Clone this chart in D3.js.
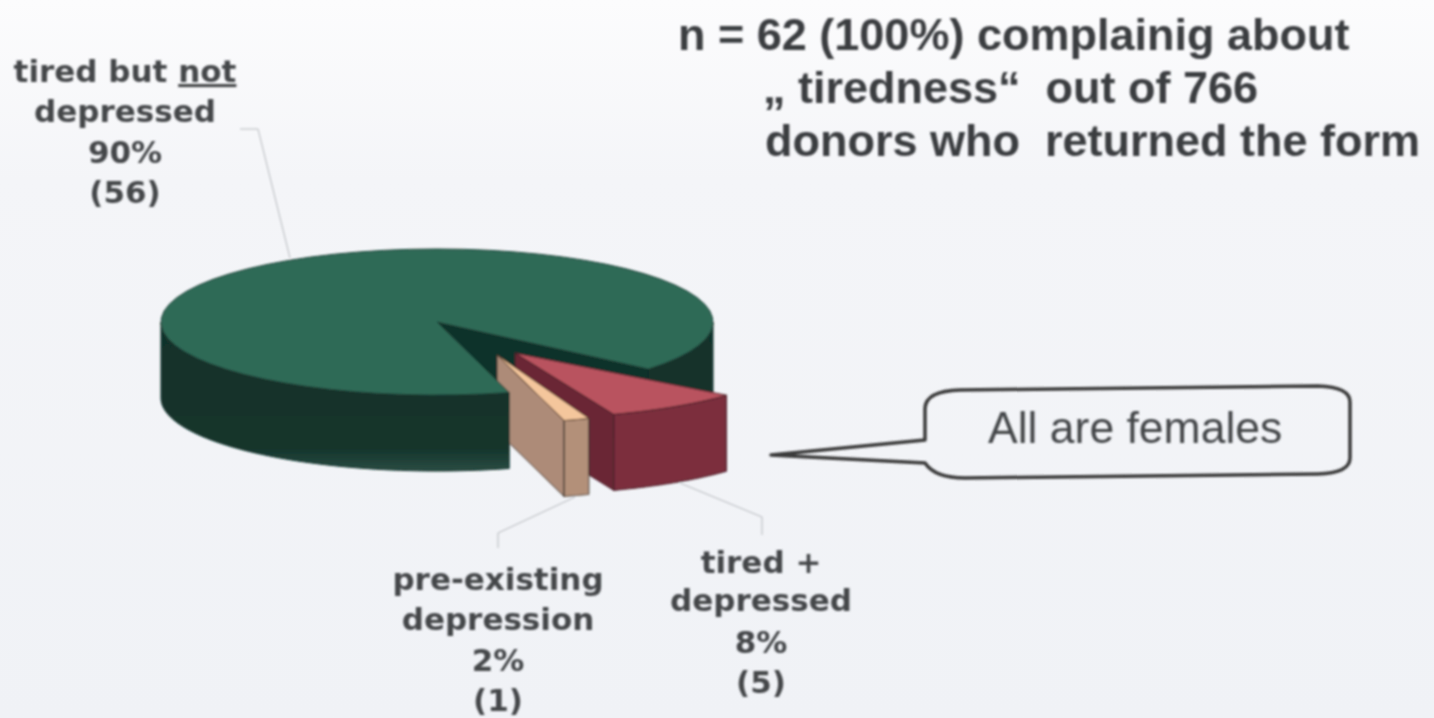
<!DOCTYPE html>
<html>
<head>
<meta charset="utf-8">
<script src="https://cdn.jsdelivr.net/npm/d3@7"></script>
<style>
  html, body { margin: 0; padding: 0; background: #f1f3f7; }
  svg { display: block; }
</style>
</head>
<body>
<svg id="chart" width="1434" height="718"></svg>
<script>
// values
const categories = ["tired + depressed", "pre-existing depression", "tired but not depressed"];
const counts = [5, 1, 56];
const percents = ["8%", "2%", "90%"];
const titleLines = ["n = 62 (100%) complainig about", "\u201E tiredness\u201C  out of 766", "donors who  returned the form"];
const calloutText = "All are females";

const svg = d3.select("#chart");
const width = +svg.attr("width");
const height = +svg.attr("height");
const rad = (deg) => (deg * Math.PI) / 180;

// pie centre and ellipse radii, flattened like the tilted 3D pie
const cx = 437, cy = 322, rx = 276, ry = 73, depth = 76;

const defs = svg.append("defs");
const paper = defs.append("linearGradient").attr("id", "paper").attr("x1", 0).attr("y1", 0).attr("x2", 0).attr("y2", 1);
paper.append("stop").attr("offset", 0).attr("stop-color", "#fcfcfd");
paper.append("stop").attr("offset", 0.25).attr("stop-color", "#f4f5f8");
paper.append("stop").attr("offset", 1).attr("stop-color", "#f0f2f6");

const wall = defs.append("linearGradient").attr("id", "greenWall").attr("x1", 0).attr("y1", 0).attr("x2", 0).attr("y2", 1);
wall.append("stop").attr("offset", 0).attr("stop-color", "#11302a");
wall.append("stop").attr("offset", 0.85).attr("stop-color", "#15352c");
wall.append("stop").attr("offset", 1).attr("stop-color", "#2a4c43");

const blur = defs.append("filter").attr("id", "scan");
blur.append("feGaussianBlur").attr("stdDeviation", 0.8);

svg.append("rect").attr("width", width).attr("height", height).attr("fill", "url(#paper)");

const root = svg.append("g").attr("filter", "url(#scan)");

// slices start just below the right edge and run clockwise on screen
const pie = d3.pie().sort(null).startAngle(rad(40)).endAngle(rad(400));
const arcs = pie(counts);
const [redArc, peachArc, greenArc] = arcs;

// explode offset and radius factors for the pulled out slices
const slice = {
  red: { dx: 78, dy: 31, kx: 1, ky: 0.9 },
  peach: { dx: 60, dy: 33, kx: 0.93, ky: 0.93 },
  green: { dx: 0, dy: 0, kx: 1, ky: 1 },
};

const point = (angle, s) => [
  cx + s.dx + s.kx * rx * Math.cos(angle),
  cy + s.dy + s.ky * ry * Math.sin(angle),
];
const apex = (s) => [cx + s.dx, cy + s.dy];
const down = (p) => [p[0], p[1] + depth];
const rim = (a0, a1, s) =>
  d3.range(0, 61).map((i) => point(a0 + ((a1 - a0) * i) / 60, s));

const line = d3.line();
const face = (pts, fill, stroke = "#1c1c1c") =>
  root.append("path")
    .attr("d", line(pts) + "Z")
    .attr("fill", fill)
    .attr("stroke", stroke)
    .attr("stroke-width", 1)
    .attr("stroke-linejoin", "round");

const sideWall = (a0, a1, s, fill, stroke) => {
  const top = rim(a0, a1, s);
  face(top.concat(top.map(down).reverse()), fill, stroke);
};
const cutWall = (a, s, fill, stroke) => {
  const o = point(a, s), c = apex(s);
  face([c, o, down(o), down(c)], fill, stroke);
};

// green: the parts at the back of the notch first
const G = slice.green, R = slice.red, P = slice.peach;
const cutEnd = greenArc.endAngle - 2 * Math.PI;
sideWall(0, cutEnd, G, "url(#greenWall)", "#11302a");
cutWall(cutEnd, G, "#11302a", "#11302a");

// red slice
cutWall(redArc.endAngle, R, "#6b2836", "#3c1a20");
sideWall(redArc.startAngle, redArc.endAngle, R, "#7b2f3e", "#3c1a20");
face([apex(R)].concat(rim(redArc.startAngle, redArc.endAngle, R)), "#b9525f", "#4a2028");

// peach slice
cutWall(peachArc.endAngle, P, "#ad8b78", "#2e2a26");
sideWall(peachArc.startAngle, peachArc.endAngle, P, "#b39079", "#2e2a26");
face([apex(P)].concat(rim(peachArc.startAngle, peachArc.endAngle, P)), "#f4c69c", "#5a4030");

// green front wall and top go over the peach slice
sideWall(greenArc.startAngle, Math.PI, G, "url(#greenWall)", "#11302a");
face([apex(G)].concat(rim(greenArc.startAngle, greenArc.endAngle, G)), "#2f6a57", "#1f3f35");

// leader lines
const leaders = [
  [[240, 129], [258, 129], [290, 258]],
  [[498, 548], [498, 533], [575, 497]],
  [[762, 535], [762, 517], [680, 483]],
];
root.append("g").selectAll("path").data(leaders).join("path")
  .attr("d", (d) => line(d))
  .attr("fill", "none")
  .attr("stroke", "#b5b8bc")
  .attr("stroke-width", 1);

// slice labels, same order as categories
const labelLines = [
  ["tired +", "depressed"],
  ["pre-existing", "depression"],
  ["tired but not", "depressed"],
];
const labelPos = [
  { x: 761, y: [573, 611, 653, 693] },
  { x: 498, y: [590, 630, 671, 711] },
  { x: 125, y: [82, 122, 163, 203] },
];
categories.forEach((c, i) => {
  const rows = labelLines[i].concat([percents[i], "(" + counts[i] + ")"]);
  const t = root.append("g")
    .attr("font-family", "'DejaVu Sans', sans-serif")
    .attr("font-weight", "bold")
    .attr("font-size", 31)
    .attr("fill", "#44464a")
    .attr("text-anchor", "middle");
  rows.forEach((row, j) => {
    const el = t.append("text").attr("x", labelPos[i].x).attr("y", labelPos[i].y[j]);
    if (row.endsWith(" not")) {
      el.append("tspan").text(row.slice(0, -3));
      el.append("tspan").attr("text-decoration", "underline").text("not");
    } else {
      el.text(row);
    }
  });
});

// title
const titleX = [678, 763, 765];
const titleY = [50, 103, 156];
root.append("g").selectAll("text").data(titleLines).join("text")
  .attr("x", (d, i) => titleX[i])
  .attr("y", (d, i) => titleY[i])
  .attr("font-family", "'Liberation Sans', Arial, sans-serif")
  .attr("font-weight", "bold")
  .attr("font-size", 45)
  .attr("fill", "#3a3c40")
  .style("white-space", "pre")
  .text((d) => d);

// speech bubble
const bubble = d3.path();
bubble.moveTo(771, 455);
bubble.lineTo(925, 440);
bubble.lineTo(925, 408);
bubble.quadraticCurveTo(926, 391, 960, 390);
bubble.lineTo(1318, 386);
bubble.quadraticCurveTo(1350, 387, 1350, 402);
bubble.lineTo(1350, 458);
bubble.quadraticCurveTo(1350, 473, 1318, 474);
bubble.lineTo(965, 478);
bubble.quadraticCurveTo(935, 478, 925, 463);
bubble.closePath();
root.append("path")
  .attr("d", bubble.toString())
  .attr("fill", "none")
  .attr("stroke", "#3a3a3a")
  .attr("stroke-width", 3.5)
  .attr("stroke-linejoin", "round");

root.append("text")
  .attr("x", 988)
  .attr("y", 443)
  .attr("font-family", "'Liberation Sans', Arial, sans-serif")
  .attr("font-size", 44.5)
  .attr("fill", "#44464a")
  .text(calloutText);
</script>
</body>
</html>
